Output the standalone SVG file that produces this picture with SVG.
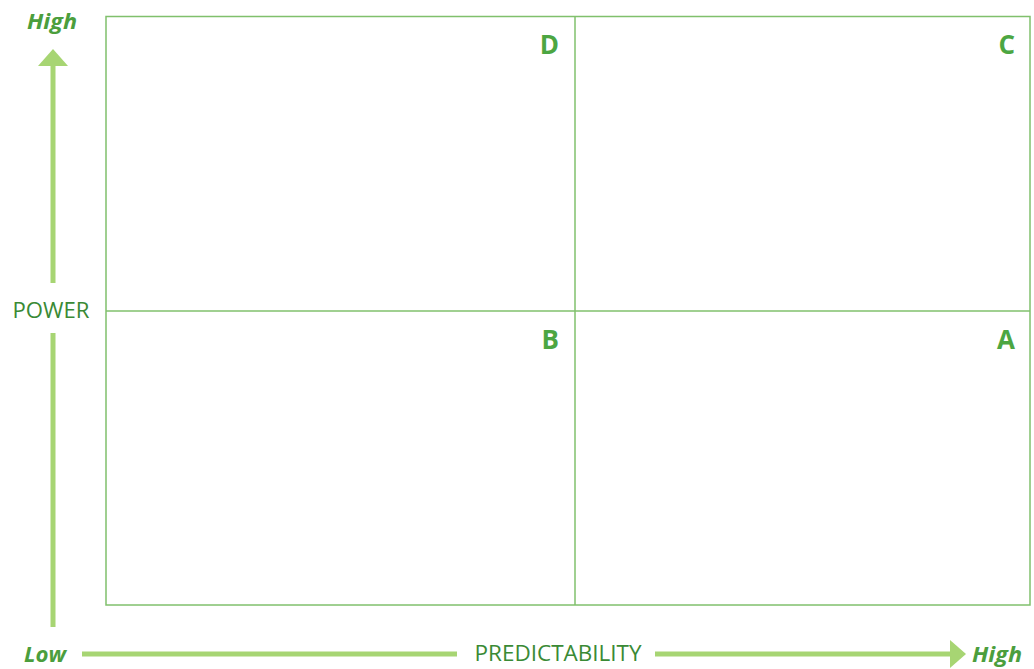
<svg xmlns="http://www.w3.org/2000/svg" width="1034" height="669" viewBox="0 0 1034 669">
<style>
.grid{fill:none;stroke:#80c06c;stroke-width:1.5}
.ax{fill:#a7d573;stroke:none}
.lbl{font-family:"Open Sans","Liberation Sans",sans-serif;font-size:21px;fill:#3a8a35}
.end{font-family:"Open Sans","Liberation Sans",sans-serif;font-size:22px;font-weight:bold;font-style:italic;fill:#4b9e3d}
.q{font-family:"Open Sans","Liberation Sans",sans-serif;font-size:26px;font-weight:bold;fill:#4ca642}
</style>
<rect width="1034" height="669" fill="#ffffff"/>
<g id="grid">
<rect class="grid" x="106" y="16.5" width="924" height="588.5"/>
<line class="grid" x1="575" y1="16.5" x2="575" y2="605"/>
<line class="grid" x1="106" y1="311" x2="1030" y2="311"/>
</g>
<g id="quadrant-D"><text class="q" x="559" y="54" text-anchor="end">D</text></g>
<g id="quadrant-C"><text class="q" x="1015" y="54" text-anchor="end">C</text></g>
<g id="quadrant-B"><text class="q" x="559" y="349" text-anchor="end">B</text></g>
<g id="quadrant-A"><text class="q" x="1015" y="349" text-anchor="end">A</text></g>
<g id="connectors">
<rect class="ax" x="50.5" y="64" width="5" height="219"/>
<polygon class="ax" points="38,66 53,49 68,66"/>
<rect class="ax" x="50.5" y="333" width="5" height="294"/>
<rect class="ax" x="82" y="651.5" width="375" height="5"/>
<rect class="ax" x="655" y="651.5" width="297" height="5"/>
<polygon class="ax" points="950,640 966,654 950,668"/>
</g>
<g id="axis-labels">
<text class="end" x="52" y="29" text-anchor="middle" textLength="50" lengthAdjust="spacingAndGlyphs">High</text>
<text class="lbl" x="51" y="318" text-anchor="middle" textLength="77" lengthAdjust="spacingAndGlyphs">POWER</text>
<text class="end" x="45" y="662" text-anchor="middle" textLength="42" lengthAdjust="spacingAndGlyphs">Low</text>
<text class="lbl" x="558" y="661" text-anchor="middle" textLength="167" lengthAdjust="spacingAndGlyphs">PREDICTABILITY</text>
<text class="end" x="997" y="662" text-anchor="middle" textLength="50" lengthAdjust="spacingAndGlyphs">High</text>
</g>
</svg>
